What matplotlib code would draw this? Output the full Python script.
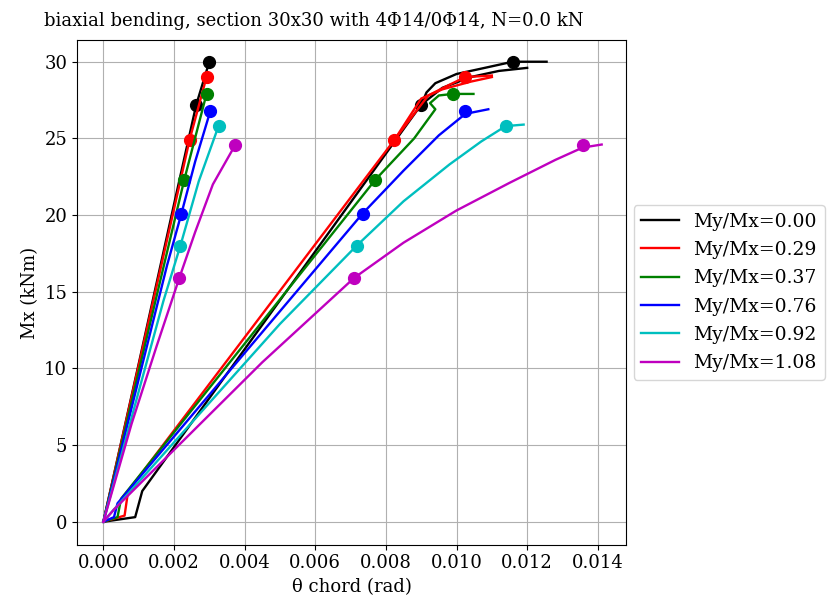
import matplotlib
matplotlib.use("Agg")
import matplotlib.pyplot as plt

plt.rcParams['font.family'] = ['DejaVu Serif']

labels = ["My/Mx=0.00", "My/Mx=0.29", "My/Mx=0.37", "My/Mx=0.76", "My/Mx=0.92", "My/Mx=1.08"]
colors = ["k", "r", "g", "b", "c", "m"]

# steep (left) curves: theta, Mx
left_theta = [
    [0.0, 0.00100, 0.00200, 0.00263, 0.00300],
    [0.0, 0.00100, 0.00200, 0.00244, 0.00292],
    [0.0, 0.00100, 0.00200, 0.00229, 0.00292],
    [0.0, 0.00100, 0.00180, 0.00221, 0.00260, 0.00303],
    [0.0, 0.00100, 0.00170, 0.00218, 0.00270, 0.00326],
    [0.0, 0.00080, 0.00150, 0.00215, 0.00260, 0.00310, 0.00374],
]
left_mx = [
    [0.0, 10.3, 20.7, 27.2, 30.0],
    [0.0, 10.2, 20.4, 24.9, 29.0],
    [0.0, 9.8, 19.5, 22.3, 27.9],
    [0.0, 9.3, 16.7, 20.1, 23.5, 26.8],
    [0.0, 8.5, 14.4, 18.0, 22.2, 25.8],
    [0.0, 6.4, 11.4, 15.9, 18.9, 22.0, 24.6],
]
left_yield_t = [0.00263, 0.00244, 0.00229, 0.00221, 0.00218, 0.00215]
left_yield_m = [27.2, 24.9, 22.3, 20.1, 18.0, 15.9]
left_ult_t = [0.00300, 0.00292, 0.00292, 0.00303, 0.00326, 0.00374]
left_ult_m = [30.0, 29.0, 27.9, 26.8, 25.8, 24.6]

# chord-rotation (right) curves
right_theta = [
    [0.0, 0.00090, 0.00110, 0.00900, 0.00915, 0.00940, 0.01000, 0.01080, 0.01159, 0.01255],
    [0.0, 0.00060, 0.00070, 0.00824, 0.00880, 0.00920, 0.00980, 0.01025, 0.01100],
    [0.0, 0.00040, 0.00050, 0.00770, 0.00880, 0.00940, 0.00925, 0.00950, 0.00989, 0.01048],
    [0.0, 0.00030, 0.00040, 0.00734, 0.00850, 0.00950, 0.01025, 0.01090],
    [0.0, 0.00030, 0.00500, 0.00717, 0.00850, 0.00980, 0.01070, 0.01139, 0.01190],
    [0.0, 0.00030, 0.00450, 0.00710, 0.00850, 0.01000, 0.01150, 0.01280, 0.01357, 0.01411],
]
right_mx = [
    [0.0, 0.3, 2.0, 27.2, 28.0, 28.6, 29.2, 29.6, 30.0, 30.0],
    [0.0, 0.4, 2.0, 24.9, 26.6, 27.8, 28.5, 29.0, 29.1],
    [0.0, 0.3, 1.5, 22.3, 25.0, 26.9, 27.3, 27.8, 27.9, 27.9],
    [0.0, 0.3, 1.2, 20.1, 22.9, 25.2, 26.6, 26.9],
    [0.0, 0.8, 12.9, 18.0, 20.9, 23.3, 24.8, 25.8, 25.9],
    [0.0, 0.8, 10.4, 15.9, 18.2, 20.3, 22.1, 23.6, 24.4, 24.6],
]
# secondary branch (black and red show a doubled line near the plateau)
sec_theta = [
    [0.00900, 0.00960, 0.01040, 0.01120, 0.01200],
    [0.00824, 0.00900, 0.00960, 0.01040, 0.01100],
]
sec_mx = [
    [27.2, 28.3, 29.0, 29.4, 29.6],
    [24.9, 27.6, 28.2, 28.7, 29.0],
]
right_yield_t = [0.00900, 0.00824, 0.00770, 0.00734, 0.00717, 0.00710]
right_yield_m = [27.2, 24.9, 22.3, 20.1, 18.0, 15.9]
right_ult_t = [0.01159, 0.01025, 0.00989, 0.01025, 0.01139, 0.01357]
right_ult_m = [30.0, 29.0, 27.9, 26.8, 25.8, 24.6]

xticks = [0.000, 0.002, 0.004, 0.006, 0.008, 0.010, 0.012, 0.014]
yticks = [0, 5, 10, 15, 20, 25, 30]

fig = plt.figure(figsize=(8.27, 6.10), dpi=100)
ax = fig.add_axes([0.093, 0.107, 0.664, 0.827])

for i in range(6):
    c = colors[i]
    ax.plot(left_theta[i], left_mx[i], color=c, lw=1.7, label=labels[i])
    ax.plot(right_theta[i], right_mx[i], color=c, lw=1.7)
    if i < 2:
        ax.plot(sec_theta[i], sec_mx[i], color=c, lw=1.7)
    ax.plot([left_yield_t[i], left_ult_t[i]], [left_yield_m[i], left_ult_m[i]],
            'o', color=c, ms=8.5, ls='none')
    ax.plot([right_yield_t[i], right_ult_t[i]], [right_yield_m[i], right_ult_m[i]],
            'o', color=c, ms=8.5, ls='none')

ax.set_xlim(-0.00075, 0.0148)
ax.set_ylim(-1.5, 31.4)
ax.set_xticks(xticks)
ax.set_xticklabels([f"{v:.3f}" for v in xticks])
ax.set_yticks(yticks)
ax.tick_params(labelsize=13)
ax.grid(True, color='#b0b0b0', lw=0.8)
ax.set_xlabel("θ chord (rad)", fontsize=13)
ax.set_ylabel("Mx (kNm)", fontsize=13)
ax.set_title("biaxial bending, section 30x30 with 4Φ14/0Φ14, N=0.0 kN", fontsize=13,
             x=0.432, pad=10)
leg = ax.legend(loc='center left', bbox_to_anchor=(1.0, 0.5), borderaxespad=0.4,
                fontsize=13.5, handlelength=2.0, labelspacing=0.55)

fig.savefig("out.png", dpi=100)
